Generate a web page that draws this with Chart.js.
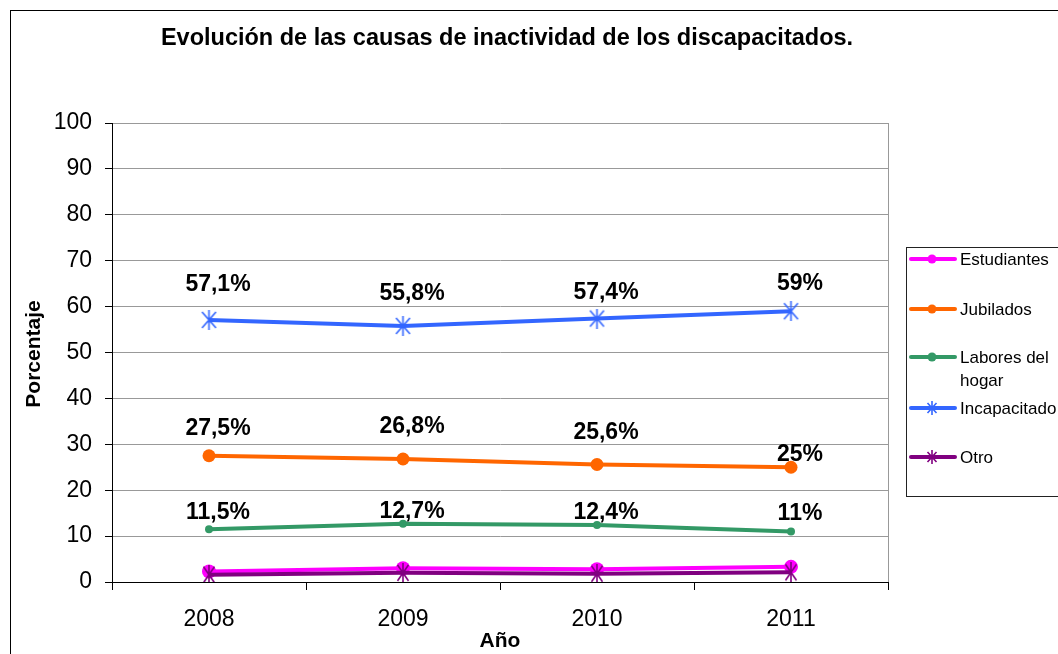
<!DOCTYPE html>
<html>
<head>
<meta charset="utf-8">
<script src="https://cdn.jsdelivr.net/npm/chart.js@4"></script>
<style>
html,body{margin:0;padding:0;background:#fff;}
#wrap{width:1058px;height:654px;position:relative;}
</style>
</head>
<body>
<div id="wrap"><canvas id="c" width="1058" height="654"></canvas></div>
<script>
const years = ['2008', '2009', '2010', '2011'];
const estudiantes = [2.3, 3.0, 2.8, 3.3];
const jubilados = [27.5, 26.8, 25.6, 25];
const labores = [11.5, 12.7, 12.4, 11];
const incapacitado = [57.1, 55.8, 57.4, 59];
const otro = [1.6, 2.0, 1.8, 2.1];
const seriesNames = ['Estudiantes', 'Jubilados', 'Labores del hogar', 'Incapacitado', 'Otro'];
const titleText = 'Evolución de las causas de inactividad de los discapacitados.';
const yTitle = 'Porcentaje';
const xTitle = 'Año';

const FONT = '"Liberation Sans", Arial, sans-serif';

function makeMarker(color, w, h) {
  const c = document.createElement('canvas');
  c.width = w; c.height = h;
  const g = c.getContext('2d');
  g.strokeStyle = color; g.lineWidth = 1.6;
  const mx = 1.5, my = 2;
  g.beginPath();
  g.moveTo(mx, my); g.lineTo(w - mx, h - my);
  g.moveTo(w - mx, my); g.lineTo(mx, h - my);
  g.moveTo(w / 2, 0); g.lineTo(w / 2, h);
  g.stroke();
  return c;
}
const starBlue = makeMarker('#3366FF', 17, 20);
const starPurple = makeMarker('#800080', 14, 20);
const starBlueLeg = makeMarker('#3366FF', 12, 14);
const starPurpleLeg = makeMarker('#800080', 12, 14);

const colors = ['#FF00FF', '#FF6600', '#339966', '#3366FF', '#800080'];

const datasets = [
  { label: seriesNames[0], data: estudiantes, borderColor: colors[0], backgroundColor: colors[0], borderWidth: 4, pointStyle: 'circle', pointRadius: 7, order: 2, labelOff: null, leg: null },
  { label: seriesNames[1], data: jubilados, borderColor: colors[1], backgroundColor: colors[1], borderWidth: 4, pointStyle: 'circle', pointRadius: 6.5, order: 1, labelOff: [-27, -32, -32, -13], leg: null },
  { label: seriesNames[2], data: labores, borderColor: colors[2], backgroundColor: colors[2], borderWidth: 4, pointStyle: 'circle', pointRadius: 4, order: 1, labelOff: [-17, -12, -12, -18], leg: null },
  { label: seriesNames[3], data: incapacitado, borderColor: colors[3], backgroundColor: colors[3], borderWidth: 4, pointStyle: starBlue, order: 1, labelOff: [-35, -32, -26, -28], leg: starBlueLeg },
  { label: seriesNames[4], data: otro, borderColor: colors[4], backgroundColor: colors[4], borderWidth: 4, pointStyle: starPurple, order: 0, labelOff: null, leg: starPurpleLeg }
];
datasets.forEach(d => { d.tension = 0; d.fill = false; d.pointBorderWidth = 0; });

const decorPlugin = {
  id: 'decor',
  beforeDraw(chart) {
    const ctx = chart.ctx;
    ctx.save();
    ctx.fillStyle = '#fff';
    ctx.fillRect(0, 0, chart.width, chart.height);
    ctx.strokeStyle = '#000'; ctx.lineWidth = 1;
    ctx.strokeRect(10.5, 10.5, 1080, 700);
    ctx.restore();
  },
  afterDraw(chart) {
    const ctx = chart.ctx;
    const a = chart.chartArea;
    ctx.save();
    ctx.strokeStyle = '#999'; ctx.lineWidth = 1;
    ctx.beginPath(); ctx.moveTo(Math.round(a.right) + 0.5, a.top); ctx.lineTo(Math.round(a.right) + 0.5, a.bottom); ctx.stroke();
    ctx.fillStyle = '#000';
    ctx.textAlign = 'center'; ctx.textBaseline = 'middle';
    ctx.font = 'bold 23.5px ' + FONT;
    ctx.fillText(titleText, 507, 39);
    ctx.font = 'bold 21px ' + FONT;
    ctx.fillText(xTitle, 500, 641);
    ctx.save();
    ctx.translate(34, 354); ctx.rotate(-Math.PI / 2);
    ctx.fillText(yTitle, 0, 0);
    ctx.restore();
    ctx.font = 'bold 23px ' + FONT;
    chart.data.datasets.forEach((ds, i) => {
      if (!ds.labelOff) return;
      const meta = chart.getDatasetMeta(i);
      meta.data.forEach((pt, j) => {
        const txt = String(ds.data[j]).replace('.', ',') + '%';
        ctx.fillText(txt, pt.x + 9, pt.y + ds.labelOff[j]);
      });
    });
    ctx.strokeStyle = '#222'; ctx.lineWidth = 1;
    ctx.strokeRect(906.5, 247.5, 200, 249);
    const ys = [259, 309, 357, 408, 457];
    ctx.font = '17px ' + FONT;
    ctx.textAlign = 'left';
    chart.data.datasets.forEach((ds, i) => {
      const y = ys[i];
      ctx.strokeStyle = ds.borderColor; ctx.lineWidth = 4; ctx.lineCap = 'round';
      ctx.beginPath(); ctx.moveTo(911, y); ctx.lineTo(955, y); ctx.stroke();
      ctx.lineCap = 'butt';
      if (!ds.leg) {
        ctx.fillStyle = ds.backgroundColor;
        ctx.beginPath(); ctx.arc(932, y, 4.5, 0, Math.PI * 2); ctx.fill();
      } else {
        ctx.drawImage(ds.leg, 932 - 6, y - 7);
      }
      ctx.fillStyle = '#000';
      const words = ds.label.split(' ');
      const lines = []; let cur = '';
      words.forEach(w => {
        const t = cur ? cur + ' ' + w : w;
        if (ctx.measureText(t).width > 98 && cur) { lines.push(cur); cur = w; } else cur = t;
      });
      lines.push(cur);
      lines.forEach((l, k) => ctx.fillText(l, 960, y + 1 + k * 23));
    });
    ctx.restore();
  }
};

new Chart(document.getElementById('c'), {
  type: 'line',
  data: { labels: years, datasets },
  plugins: [decorPlugin],
  options: {
    responsive: false,
    animation: false,
    devicePixelRatio: 1,
    layout: { padding: { left: 0, top: 123, right: 170, bottom: 0 } },
    plugins: { legend: { display: false }, title: { display: false }, tooltip: { enabled: false } },
    scales: {
      x: {
        type: 'category',
        offset: true,
        afterFit(s) { s.height = 72; },
        grid: { display: true, offset: true, drawOnChartArea: false, drawTicks: true, tickLength: 8, color: '#000', tickColor: '#000' },
        border: { display: true, color: '#000', width: 1 },
        ticks: { color: '#000', font: { family: FONT, size: 23 }, padding: 16, maxRotation: 0 }
      },
      y: {
        min: 0, max: 100,
        afterFit(s) { s.width = 112; },
        grid: { display: true, color: '#999', drawTicks: true, tickLength: 7, tickColor: '#000' },
        border: { display: true, color: '#000', width: 1 },
        ticks: { stepSize: 10, color: '#000', font: { family: FONT, size: 23 }, padding: 13 }
      }
    }
  }
});
</script>
</body>
</html>
